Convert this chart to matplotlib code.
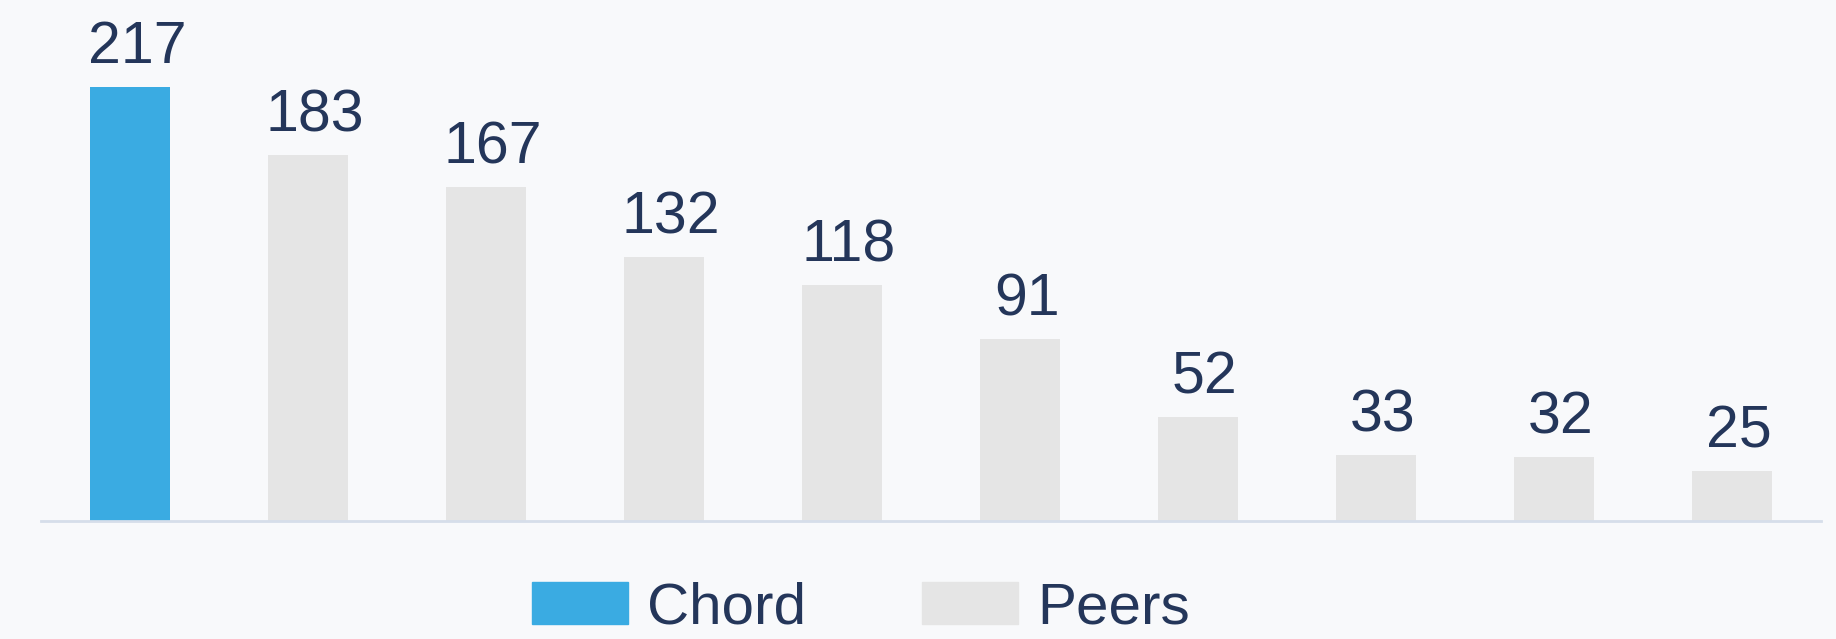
import matplotlib.pyplot as plt
from matplotlib.patches import Patch

# data
names = ['Chord', 'P1', 'P2', 'P3', 'P4', 'P5', 'P6', 'P7', 'P8', 'P9']
values = [217, 183, 167, 132, 118, 91, 52, 33, 32, 25]
is_chord = [True] + [False] * 9

bg = '#f8f9fb'
blue = '#3aabe2'
grey = '#e5e5e5'
navy = '#24365a'

plt.rcParams['font.family'] = ['Liberation Sans', 'DejaVu Sans']

fig = plt.figure(figsize=(18.36, 6.39), dpi=100, facecolor=bg)
ax = fig.add_axes([41 / 1836, 118 / 639, (1821 - 41) / 1836, 500 / 639])
ax.set_facecolor(bg)

x = list(range(len(values)))
colors = [blue if c else grey for c in is_chord]
bars = ax.bar(x, values, width=0.45, color=colors, zorder=2)

# value labels, sitting a touch right of the bar centre like the original
for xi, v in zip(x, values):
    ax.annotate(str(v), (xi, v), xytext=(5, 17), textcoords='offset points',
                ha='center', va='baseline', fontsize=42.5, color=navy)

ax.set_xlim(-0.5, 9.5)
ax.set_ylim(0, 250)
for s in ['top', 'right', 'left']:
    ax.spines[s].set_visible(False)
ax.spines['bottom'].set_color('#d6deea')
ax.spines['bottom'].set_linewidth(2)
ax.set_xticks([])
ax.set_yticks([])

handles = [Patch(color=blue, label='Chord'), Patch(color=grey, label='Peers')]
fig.legend(handles=handles, loc='center', bbox_to_anchor=(0.469, 0.048), ncol=2,
           frameon=False, fontsize=42, labelcolor=navy, handlelength=1.64,
           handleheight=0.72, handletextpad=0.34, columnspacing=1.98)

fig.savefig('out.png', dpi=100, facecolor=bg)
